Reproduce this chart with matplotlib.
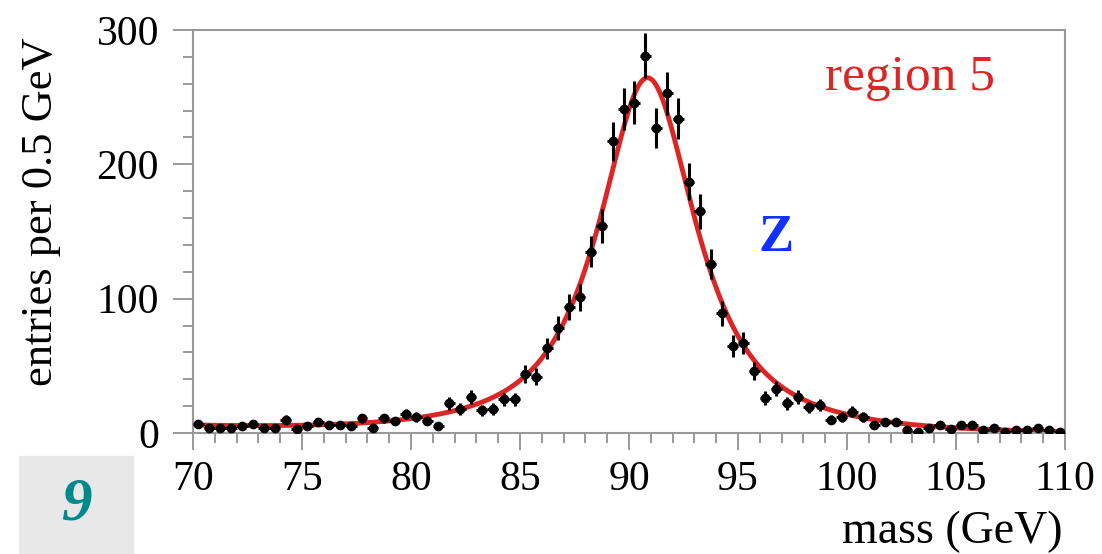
import numpy as np
import matplotlib.pyplot as plt
from matplotlib.ticker import MultipleLocator
from matplotlib.patches import Rectangle

plt.rcParams['font.family'] = ['Liberation Serif', 'DejaVu Serif']

# dimuon mass histogram, 0.5 GeV bins from 70 to 110 GeV
bin_lo = 70.0
bin_width = 0.5
entries = [7, 4, 4, 4, 5, 7, 4, 4, 10, 3,
           5, 8, 6, 6, 5, 11, 4, 11, 9, 14,
           12, 9, 5, 22, 18, 27, 17, 18, 25, 25,
           44, 42, 63, 78, 94, 101, 135, 154, 217, 241,
           246, 281, 227, 253, 234, 187, 165, 126, 89, 65,
           67, 46, 26, 33, 22, 27, 19, 21, 10, 12,
           16, 12, 6, 8, 8, 2, 1, 4, 6, 3,
           6, 6, 2, 4, 1, 2, 2, 4, 2, 1]

# fit result: pseudo-Voigt peak with damped tails + falling background
fit_mass = 90.85
fit_halfwidth = 2.72
fit_peak = 263.5
fit_lorentz_frac = 0.91
fit_tail_scale = 15.0
fit_bkg_norm = 5.4
fit_bkg_slope = 12.0

centers = bin_lo + bin_width * (np.arange(len(entries)) + 0.5)
counts = np.array(entries, dtype=float)
errors = np.sqrt(counts)


def fit_curve(m):
    d = m - fit_mass
    u = (d / fit_halfwidth) ** 2
    lorentz = 1.0 / (1.0 + u) * np.exp(-(d / fit_tail_scale) ** 2)
    gauss = np.exp(-np.log(2) * u)
    peak = fit_peak * (fit_lorentz_frac * lorentz + (1 - fit_lorentz_frac) * gauss)
    return peak + fit_bkg_norm * np.exp(-(m - 70.0) / fit_bkg_slope)


fig = plt.figure(figsize=(11.02, 5.54), dpi=100)
ax = fig.add_axes([193 / 1102, 1 - 433 / 554, (1065 - 193) / 1102, (433 - 30) / 554])

m = np.linspace(70, 110, 800)
ax.plot(m, fit_curve(m), color='#dc2626', lw=3.5, zorder=2)
ax.errorbar(centers, counts, yerr=errors, xerr=bin_width / 2, fmt='o', color='black',
            ms=6, elinewidth=2.2, capsize=0, zorder=3)

ax.set_xlim(70, 110)
ax.set_ylim(0, 300)
ax.xaxis.set_major_locator(MultipleLocator(5))
ax.xaxis.set_minor_locator(MultipleLocator(1))
ax.yaxis.set_major_locator(MultipleLocator(100))
ax.yaxis.set_minor_locator(MultipleLocator(20))

for s in ax.spines.values():
    s.set_color('#999999')
    s.set_linewidth(1.5)
ax.tick_params(axis='both', which='both', direction='out', color='#888888', width=1.2,
               labelsize=30)
ax.tick_params(axis='y', which='major', length=14.5, pad=10)
ax.tick_params(axis='y', which='minor', length=7)
ax.tick_params(axis='x', which='major', length=12, pad=8)
ax.tick_params(axis='x', which='minor', length=7)

ax.set_ylabel('entries per 0.5 GeV', fontsize=32)
ax.yaxis.set_label_coords(-0.151, 0.548)
fig.text(1063 / 1102, 1 - 543 / 554, 'mass (GeV)', fontsize=33, ha='right', va='baseline')

ax.text(825 / 1102, 1 - 90 / 554, 'region 5', transform=fig.transFigure,
        color='#dc2626', fontsize=37, va='baseline')
ax.text(776 / 1102, 1 - 238 / 554, 'Z', transform=fig.transFigure, color='#1030ff',
        fontsize=38, fontweight='bold', ha='center', va='center')

fig.patches.append(Rectangle((19 / 1102, 0), (133 - 19) / 1102, (554 - 456) / 554,
                             transform=fig.transFigure, color='#e8e8e8', zorder=0))
fig.text(76 / 1102, 1 - 505 / 554, '9', color='#00898a', fontsize=44,
         fontstyle='italic', fontweight='bold', ha='center', va='center')

fig.savefig('out.png', dpi=100)
